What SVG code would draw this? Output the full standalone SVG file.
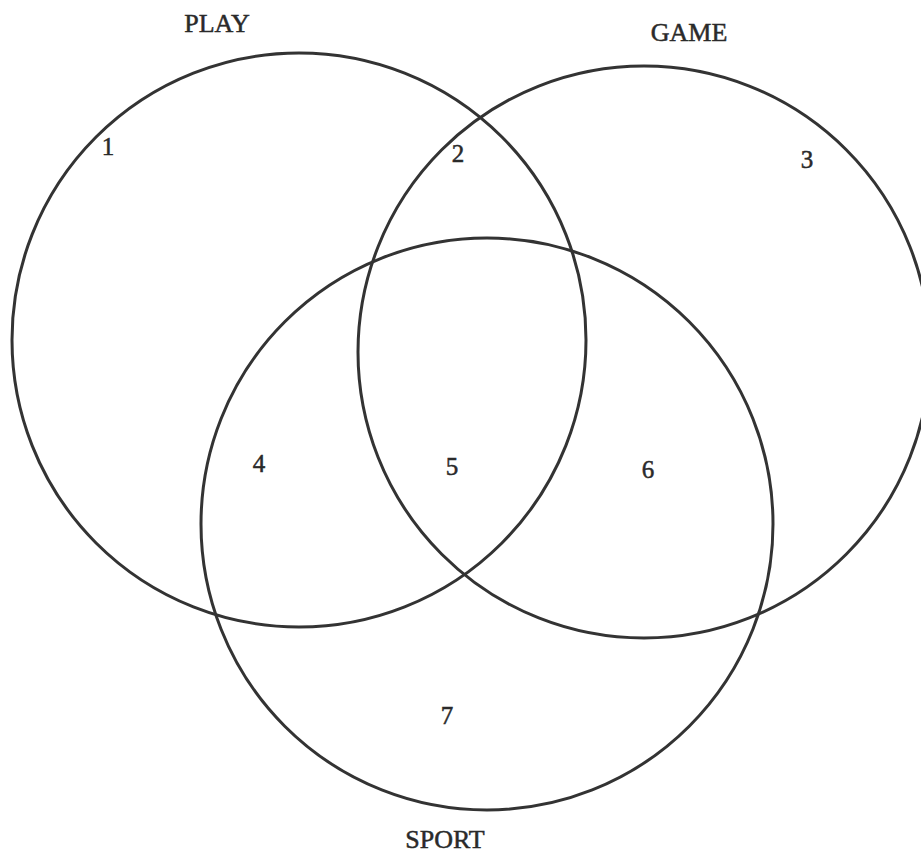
<svg xmlns="http://www.w3.org/2000/svg" width="921" height="854" viewBox="0 0 921 854">
<style>
.c{fill:none;stroke:#333;stroke-width:3}
.t{font-family:"Liberation Serif","Times New Roman",serif;fill:#2a2a2a;stroke:#2a2a2a;stroke-width:0.5;text-anchor:middle}
.lbl{font-size:26px}
.num{font-size:25px}
</style>
<rect width="921" height="854" fill="#fff"/>
<g id="play"><circle class="c" cx="299" cy="340" r="287"/><text class="t lbl" x="217" y="32">PLAY</text></g>
<g id="game"><circle class="c" cx="644" cy="352" r="286"/><text class="t lbl" x="689" y="41">GAME</text></g>
<g id="sport"><circle class="c" cx="487" cy="524" r="286"/><text class="t lbl" x="445" y="848">SPORT</text></g>
<g id="regions">
<text class="t num" x="108" y="155">1</text>
<text class="t num" x="458" y="162">2</text>
<text class="t num" x="807" y="168">3</text>
<text class="t num" x="259" y="472">4</text>
<text class="t num" x="452" y="475">5</text>
<text class="t num" x="648" y="478">6</text>
<text class="t num" x="447" y="724">7</text>
</g>
<g id="connectors"></g>
</svg>
